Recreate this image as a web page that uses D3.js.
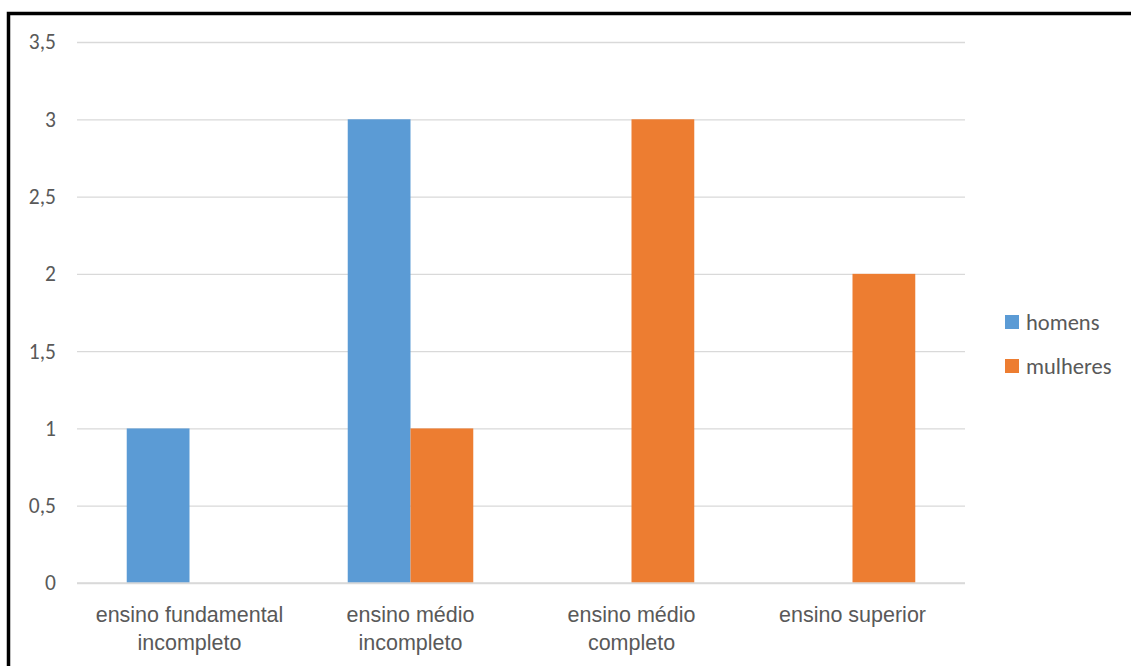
<!DOCTYPE html>
<html>
<head>
<meta charset="utf-8">
<script src="https://cdn.jsdelivr.net/npm/d3@7"></script>
<style>
  html, body { margin: 0; padding: 0; background: #fff; }
  svg { display: block; font-family: Carlito, Lato, "Open Sans", sans-serif; }
</style>
</head>
<body>
<svg id="chart" width="1131" height="666"></svg>
<script>
// Escolaridade por sexo
const categories = [["ensino fundamental", "incompleto"], ["ensino médio", "incompleto"], ["ensino médio", "completo"], ["ensino superior"]];
const seriesNames = ["homens", "mulheres"];
const homens = [1, 3, 0, 0];
const mulheres = [0, 1, 3, 2];
const yTicks = [0, 0.5, 1, 1.5, 2, 2.5, 3, 3.5];
const colors = ["#5b9bd5", "#ed7d31"];

const svg = d3.select("#chart");
const W = 1131, H = 666;
const plot = { left: 77, right: 965, top: 42, bottom: 583 };
const textColor = "#595959";
const fontSize = 21.5;

// frame
svg.append("path")
  .attr("d", `M8.5,${H} L8.5,13.5 L${W},13.5`)
  .attr("fill", "none").attr("stroke", "#000").attr("stroke-width", 3.5);

const keys = categories.map((c, i) => i);
const x = d3.scaleBand().domain(keys).range([plot.left + 2, plot.right - 2])
  .paddingInner(0.432).paddingOuter(0.216);
const xs = d3.scaleBand().domain(seriesNames).range([0, x.bandwidth()]);
const y = d3.scaleLinear().domain([0, 3.5]).range([plot.bottom, plot.top]);

const fmt = v => String(v).replace(".", ",");

// gridlines + y labels
const yAxis = d3.axisLeft(y).tickValues(yTicks).tickFormat(fmt)
  .tickSize(-(plot.right - plot.left)).tickPadding(21);
const gy = svg.append("g").attr("transform", `translate(${plot.left},0)`).call(yAxis);
gy.select(".domain").remove();
gy.selectAll(".tick line").attr("stroke", "#d9d9d9").attr("stroke-width", 1.3);
gy.selectAll(".tick text").attr("fill", textColor).attr("font-size", fontSize)
  .attr("font-family", "Carlito, Lato, 'Open Sans', sans-serif");

// bars
const data = keys.map(i => ({ i, vals: [homens[i], mulheres[i]] }));
const groups = svg.append("g").selectAll("g").data(data).join("g")
  .attr("transform", d => `translate(${x(d.i)},0)`);
groups.selectAll("rect")
  .data(d => d.vals.map((v, s) => ({ v, s })).filter(e => e.v > 0))
  .join("rect")
  .attr("x", e => xs(seriesNames[e.s]))
  .attr("width", xs.bandwidth())
  .attr("y", e => y(e.v))
  .attr("height", e => y(0) - y(e.v))
  .attr("fill", e => colors[e.s]);

// x axis line on top of bars
svg.append("line")
  .attr("x1", plot.left).attr("x2", plot.right)
  .attr("y1", y(0)).attr("y2", y(0))
  .attr("stroke", "#d9d9d9").attr("stroke-width", 1.3);

// category labels
const xAxis = d3.axisBottom(x).tickSize(0).tickFormat("");
const gx = svg.append("g").attr("transform", `translate(0,${plot.bottom})`).call(xAxis);
gx.select(".domain").remove();
gx.selectAll(".tick").each(function(i) {
  const t = d3.select(this).append("text")
    .attr("text-anchor", "middle").attr("fill", textColor).attr("font-size", fontSize);
  categories[i].forEach((line, k) => {
    t.append("tspan").attr("x", 0).attr("y", 39 + k * 28).text(line);
  });
});

// legend
const legend = svg.append("g").attr("transform", "translate(1005,0)");
seriesNames.forEach((name, s) => {
  const cy = 322 + s * 44;
  legend.append("rect").attr("x", 0).attr("y", cy - 7).attr("width", 14).attr("height", 14)
    .attr("fill", colors[s]);
  legend.append("text").attr("x", 21).attr("y", cy).attr("dy", "0.35em")
    .attr("fill", textColor).attr("font-size", 22.5).text(name);
});
</script>
</body>
</html>
